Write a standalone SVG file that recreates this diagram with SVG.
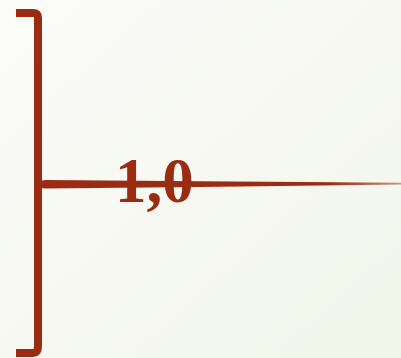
<svg xmlns="http://www.w3.org/2000/svg" width="401" height="358" viewBox="0 0 401 358">
<defs>
<linearGradient id="bg" x1="0" y1="0" x2="1" y2="1">
<stop offset="0" stop-color="#fbfbf8"/>
<stop offset="1" stop-color="#f2f6ea"/>
</linearGradient>
<linearGradient id="fade" x1="0" y1="0" x2="1" y2="0">
<stop offset="0" stop-color="#992c12"/>
<stop offset="0.8" stop-color="#992c12"/>
<stop offset="1" stop-color="#992c12" stop-opacity="0.5"/>
</linearGradient>
<style>
.ink{fill:none;stroke:#992c12;stroke-width:8;stroke-linejoin:round}
.lbl{font-family:"Liberation Serif","Times New Roman",serif;font-weight:bold;font-size:63px;fill:#992c12}
</style>
</defs>
<rect width="401" height="358" fill="url(#bg)"/>
<g id="bracket">
<path class="ink" d="M16,13 L33,13 Q38,13 38,18 L38,346 Q38,353 33,353 L16,353"/>
</g>
<g id="label">
<text class="lbl" x="115" y="202">1,0</text>
</g>
<g id="connectors">
<path fill="url(#fade)" d="M34,183 Q38,180.5 46,180 L200,181.2 L401,182.8 L401,184.6 L200,187 L46,188.5 Q38,188 34,186 Z"/>
</g>
</svg>
